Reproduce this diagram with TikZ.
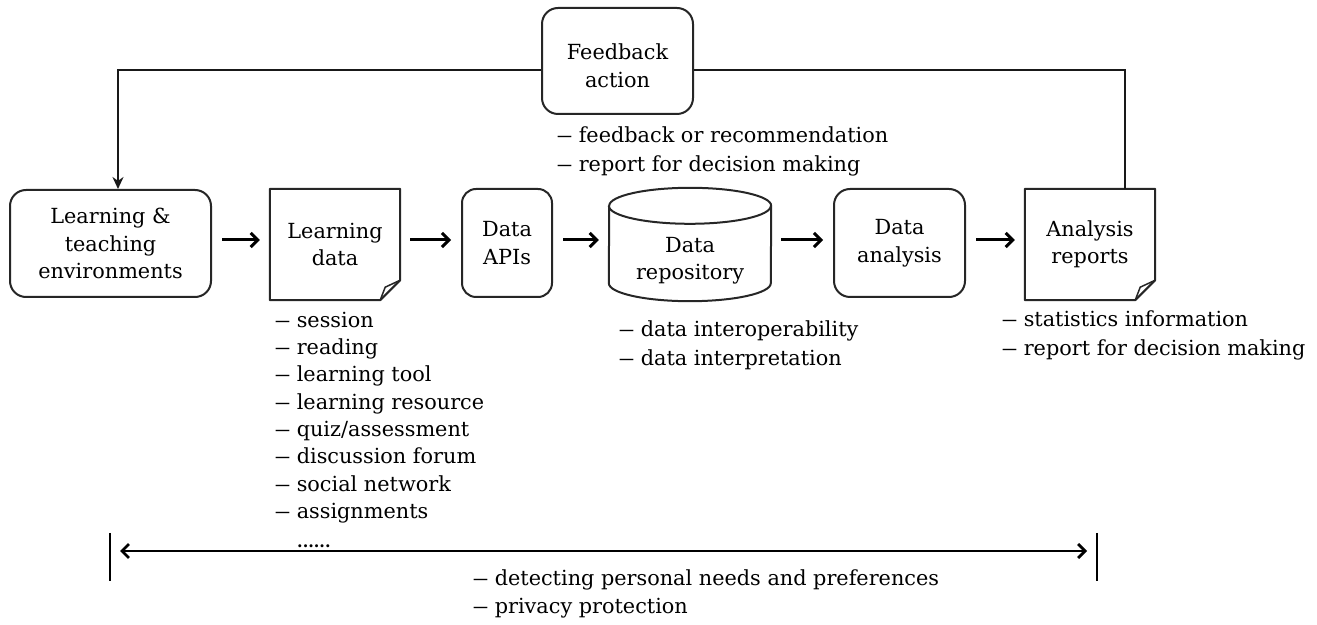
\documentclass[tikz,border=0pt]{standalone}
\usepackage{fontspec}
\setmainfont{DejaVu Serif}
\usepackage{graphicx}
\usetikzlibrary{arrows.meta}
\newcommand\mydash{\scalebox{0.72}[1]{—}\ }
\begin{document}
\begin{tikzpicture}[x=1pt,y=1pt,
  boxfont/.style={font=\fontsize{20.8}{27.5}\selectfont},
  box/.style={draw=black!85, line width=2pt, fill=white, align=center, inner sep=0pt, boxfont},
  rbox/.style={box, rounded corners=16pt},
  doc/.style={align=center, inner sep=0pt, boxfont, minimum width=130pt, minimum height=111pt},
  docline/.style={draw=black!85, line width=2pt, line join=round},
  lst/.style={align=left, anchor=north west, inner sep=0pt},
  barb/.tip={Straight Barb[length=7pt,width=14pt]},
  flow/.style={line width=3pt, -barb, shorten <=10pt, shorten >=10pt},
  fbline/.style={line width=2.5pt, draw=black!90},
]
\useasboundingbox (0,0) rectangle (1317,624);

% main boxes
\node[rbox, minimum width=201pt, minimum height=107pt] (lte) at (110.5,380.5) {Learning \&\\teaching\\environments};
\node[doc] (ld) at (335,379.5) {Learning\\data};
\node[rbox, rounded corners=14pt, minimum width=90pt, minimum height=108pt] (apis) at (507,381) {Data\\APIs};
\node[inner sep=0pt, minimum width=162pt, minimum height=113pt] (repo) at (690,379.5) {};
\node[inner sep=0pt, align=center, boxfont] (repotxt) at ([yshift=-16pt]repo.center) {Data\\repository};
\node[rbox, minimum width=131pt, minimum height=108pt] (ana) at (899.5,381) {Data\\analysis};
\node[doc] (rep) at (1090,379.5) {Analysis\\reports};
\node[rbox, minimum width=151pt, minimum height=106pt] (fb) at (617.5,563) {\rule{0pt}{25pt}Feedback\\action};

% document shapes
\foreach \d in {ld,rep}{
  \draw[docline] (\d.north west) -- (\d.north east) -- ([yshift=20pt]\d.south east)
     -- ([xshift=-20pt]\d.south east) -- (\d.south west) -- cycle;
  \draw[docline, line width=1.5pt] ([yshift=20pt]\d.south east) -- ([xshift=-15pt,yshift=13pt]\d.south east) -- ([xshift=-20pt]\d.south east);
}

% cylinder
\draw[docline] ([yshift=-18pt]repo.north east) arc[start angle=0, end angle=180, x radius=81pt, y radius=18pt]
   -- ([yshift=18pt]repo.south west) arc[start angle=180, end angle=360, x radius=81pt, y radius=18pt] -- cycle;
\draw[docline] ([yshift=-18pt]repo.north west) arc[start angle=180, end angle=360, x radius=81pt, y radius=18pt];

% flow arrows
\coordinate (ay) at (0,384);
\draw[flow] (lte.east |- ay) -- (ld.west |- ay);
\draw[flow] (ld.east |- ay) -- (apis.west |- ay);
\draw[flow] (apis.east |- ay) -- (repo.west |- ay);
\draw[flow] (repo.east |- ay) -- (ana.west |- ay);
\draw[flow] (ana.east |- ay) -- (rep.west |- ay);

% feedback loop
\coordinate (fbl) at (0,554);
\draw[fbline] ([xshift=35pt]rep.north) |- (fb.east |- fbl);
\draw[fbline, -{Stealth[length=12pt,width=11pt]}] (fb.west |- fbl) -| ([xshift=7.5pt]lte.north);

% lists
\node[lst, font=\fontsize{20.8}{29}\selectfont] (fbl1) at (557,502) {\rule{0pt}{20pt}\mydash feedback or recommendation\\\mydash report for decision making};
\node[lst, font=\fontsize{20.8}{27.3}\selectfont] (ldl) at (275,317) {\rule{0pt}{20pt}\mydash session\\\mydash reading\\\mydash learning tool\\\mydash learning resource\\\mydash quiz/assessment\\\mydash discussion forum\\\mydash social network\\\mydash assignments};
\node[anchor=base west, inner sep=0pt, font=\fontsize{16}{16}\selectfont\bfseries] (dots) at (297,77) {......};
\node[lst, font=\fontsize{20.8}{28.3}\selectfont] (repl) at (619,307.3) {\rule{0pt}{20pt}\mydash data interoperability\\\mydash data interpretation};
\node[lst, font=\fontsize{20.8}{28.3}\selectfont] (repol) at (1002,317.3) {\rule{0pt}{20pt}\mydash statistics information\\\mydash report for decision making};
\node[lst, font=\fontsize{20.8}{28.5}\selectfont] (botl) at (473,59) {\rule{0pt}{20pt}\mydash detecting personal needs and preferences\\\mydash privacy protection};

% bottom span
\coordinate (bl) at (110,73);
\coordinate (br) at (1097,73);
\draw[line width=2.5pt] ([yshift=18pt]bl) -- ([yshift=-30pt]bl);
\draw[line width=2.5pt] ([yshift=18pt]br) -- ([yshift=-30pt]br);
\draw[line width=2.8pt, barb-barb, shorten <=10pt, shorten >=10pt] (bl) -- (br);
\end{tikzpicture}
\end{document}
